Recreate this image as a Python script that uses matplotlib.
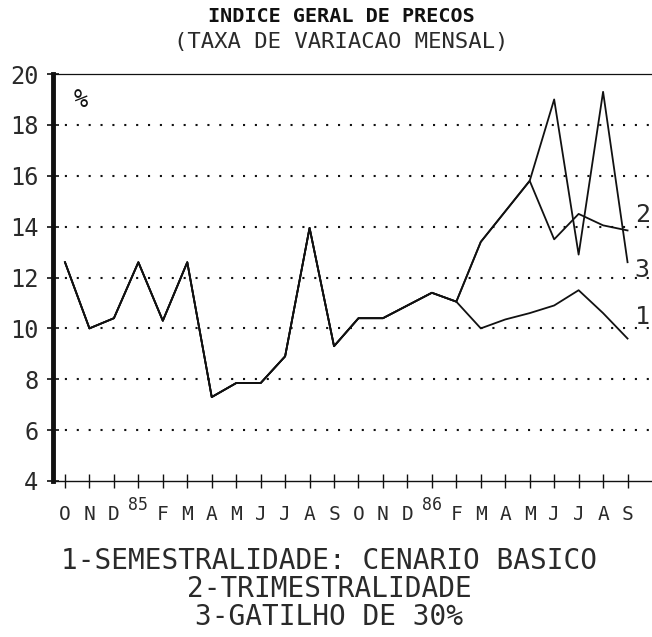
import matplotlib.pyplot as plt

# meses de out/84 a set/86 (o "J" de janeiro aparece como o ano)
months = ['O', 'N', 'D', '', 'F', 'M', 'A', 'M', 'J', 'J', 'A', 'S',
          'O', 'N', 'D', '', 'F', 'M', 'A', 'M', 'J', 'J', 'A', 'S']
years = {3: '85', 15: '86'}
yticks = [4, 6, 8, 10, 12, 14, 16, 18, 20]

# 1 - semestralidade: cenario basico
serie1 = [12.6, 10.0, 10.4, 12.6, 10.3, 12.6, 7.3, 7.85, 7.85, 8.9, 13.95, 9.3,
          10.4, 10.4, 10.9, 11.4, 11.05, 10.0, 10.35, 10.6, 10.9, 11.5, 10.6, 9.6]
# 2 - trimestralidade
serie2 = serie1[:17] + [13.4, 14.6, 15.8, 13.5, 14.5, 14.05, 13.85]
# 3 - gatilho de 30%
serie3 = serie2[:20] + [19.0, 12.9, 19.3, 12.6]

legenda = ['1-SEMESTRALIDADE: CENARIO BASICO', '2-TRIMESTRALIDADE', '3-GATILHO DE 30%']

plt.rcParams['font.family'] = ['DejaVu Sans Mono']
ink = '#111111'
soft = '#2a2a2a'

fig = plt.figure(figsize=(6.52, 6.37), dpi=100)
ax = fig.add_axes([53 / 652, 1 - 481 / 637, 599 / 652, 407 / 637])
ax.set_xlim(-0.49, 24.0)
ax.set_ylim(4, 20)

x = list(range(len(months)))
for s in (serie3, serie2, serie1):
    ax.plot(x, s, color=ink, lw=1.3)

# grade pontilhada
for y in yticks[1:-1]:
    ax.axhline(y, color=ink, lw=1.5, ls=(0, (1, 4.7)), zorder=0)

ax.spines['right'].set_visible(False)
ax.spines['left'].set_linewidth(3.5)
ax.spines['top'].set_linewidth(0.9)
ax.spines['bottom'].set_linewidth(1.0)
for sp in ax.spines.values():
    sp.set_color(ink)

ax.set_yticks(yticks)
ax.set_yticklabels([str(v) for v in yticks], fontsize=17, color=soft)
ax.tick_params(axis='y', direction='inout', length=9, width=1.2, pad=6, color=ink)

ax.set_xticks(x)
ax.set_xticklabels(months, fontsize=14, color=soft)
ax.set_xticks(list(years.keys()), minor=True)
ax.tick_params(axis='x', which='major', direction='inout', length=10, width=1, pad=12, color=ink)
ax.tick_params(axis='x', which='minor', direction='inout', length=22, width=1.2, color=ink)

for i, yr in years.items():
    ax.annotate(yr, xy=(i, 0), xycoords=('data', 'axes fraction'), xytext=(0, -17),
                textcoords='offset points', ha='center', va='center', fontsize=12, color=soft)

ax.text(0.047, 0.935, '%', transform=ax.transAxes, fontsize=17, ha='center', va='center', color=ink)

for lab, val in (('2', 14.45), ('3', 12.3), ('1', 10.45)):
    ax.text(23.6, val, lab, fontsize=18, ha='center', va='center', color=soft, clip_on=False)

fig.text(0.524, 1 - 17 / 637, 'INDICE GERAL DE PRECOS', ha='center', va='center',
         fontsize=14.5, fontweight='bold', color=ink)
fig.text(0.524, 1 - 42 / 637, '(TAXA DE VARIACAO MENSAL)', ha='center', va='center',
         fontsize=16, color=soft)

for txt, yy in zip(legenda, (561, 589, 617)):
    fig.text(0.505, 1 - yy / 637, txt, ha='center', va='center', fontsize=20, color=soft)

fig.savefig('out.png', dpi=100)
